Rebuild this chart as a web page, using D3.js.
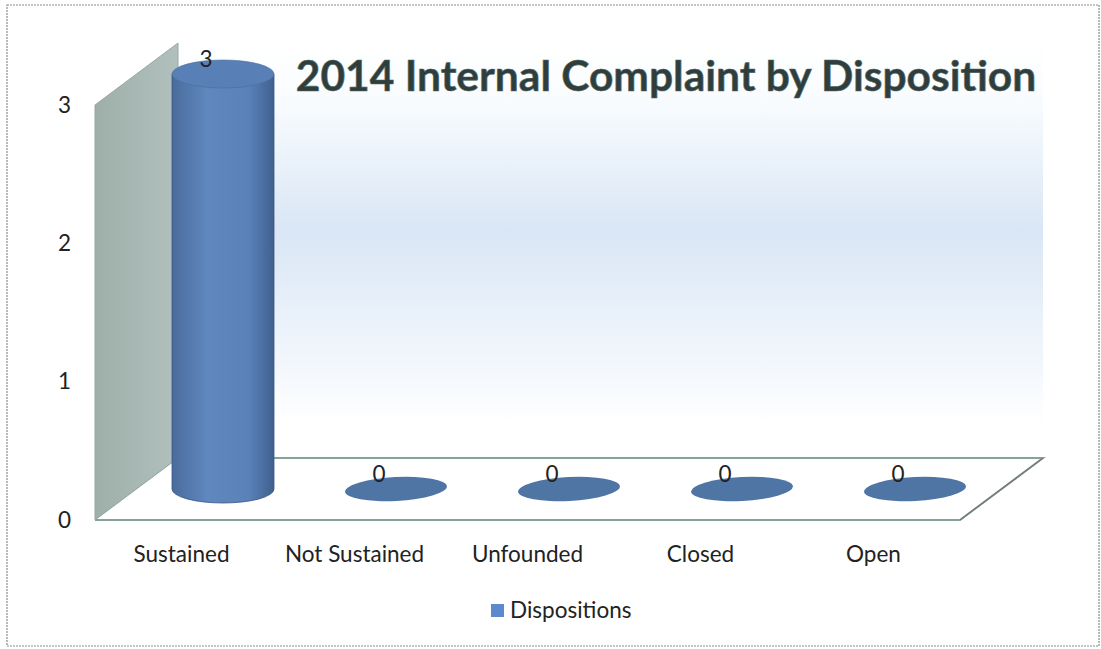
<!DOCTYPE html>
<html lang="en">
<head>
  <title>2014 Internal Complaint by Disposition</title>
  <meta charset="UTF-8">
  <style>
    body { margin: 0; background: #fff; font-family: Lato, "Noto Sans", sans-serif; }
  </style>
  <script src="https://cdn.jsdelivr.net/npm/d3@7"></script>
</head>
<body>
<script>
  var categories = ["Sustained", "Not Sustained", "Unfounded", "Closed", "Open"];
  var values = [3, 0, 0, 0, 0];
  var yTicks = [0, 1, 2, 3];
  var seriesName = "Dispositions";
  var title = "2014 Internal Complaint by Disposition";

  var W = 1101, H = 649;
  // front floor edge and 3d depth offset
  var x0 = 95, x1 = 960, floorY = 520;
  var depthX = 83, depthY = -62;
  var labelSize = 22.5;

  var svg = d3.select("body").append("svg")
    .attr("width", W).attr("height", H);

  var defs = svg.append("defs");

  var wallGrad = defs.append("linearGradient").attr("id", "wall")
    .attr("x1", 0).attr("y1", 0).attr("x2", 0).attr("y2", 1);
  wallGrad.append("stop").attr("offset", "0%").attr("stop-color", "#ffffff");
  wallGrad.append("stop").attr("offset", "15%").attr("stop-color", "#f8fbfe");
  wallGrad.append("stop").attr("offset", "45%").attr("stop-color", "#d9e6f5");
  wallGrad.append("stop").attr("offset", "72%").attr("stop-color", "#eef4fb");
  wallGrad.append("stop").attr("offset", "92%").attr("stop-color", "#ffffff");

  var sideGrad = defs.append("linearGradient").attr("id", "side")
    .attr("x1", 0).attr("y1", 0).attr("x2", 1).attr("y2", 0);
  sideGrad.append("stop").attr("offset", "0%").attr("stop-color", "#9eafaa");
  sideGrad.append("stop").attr("offset", "100%").attr("stop-color", "#b1c0bc");

  var cylGrad = defs.append("linearGradient").attr("id", "cyl")
    .attr("x1", 0).attr("y1", 0).attr("x2", 1).attr("y2", 0);
  cylGrad.append("stop").attr("offset", "0%").attr("stop-color", "#4a6c9c");
  cylGrad.append("stop").attr("offset", "35%").attr("stop-color", "#5f88bf");
  cylGrad.append("stop").attr("offset", "75%").attr("stop-color", "#5a82b9");
  cylGrad.append("stop").attr("offset", "100%").attr("stop-color", "#40608f");

  // outer frame
  svg.append("rect")
    .attr("x", 7).attr("y", 5).attr("width", 1092).attr("height", 641)
    .attr("fill", "none").attr("stroke", "#8a8a8a").attr("stroke-width", 1.2)
    .attr("stroke-dasharray", "2,1");

  var x = d3.scaleBand().domain(categories).range([x0, x1]);
  var y = d3.scaleLinear().domain([0, 3]).range([floorY, floorY - 415]);

  // back wall
  svg.append("rect")
    .attr("x", x0 + depthX).attr("y", y(3) + depthY)
    .attr("width", x1 - x0).attr("height", floorY - y(3))
    .attr("fill", "url(#wall)");

  // side wall
  svg.append("path")
    .attr("d", d3.line()([[x0, y(3)], [x0 + depthX, y(3) + depthY], [x0 + depthX, floorY + depthY], [x0, floorY]]) + "Z")
    .attr("fill", "url(#side)").attr("stroke", "#95a8a3").attr("stroke-width", 1);

  // floor
  svg.append("path")
    .attr("d", d3.line()([[x0, floorY], [x0 + depthX, floorY + depthY], [x1 + depthX, floorY + depthY], [x1, floorY]]) + "Z")
    .attr("fill", "#ffffff").attr("stroke", "none");
  svg.append("path")
    .attr("d", d3.line()([[x0 + depthX, floorY + depthY], [x1 + depthX, floorY + depthY], [x1, floorY], [x0, floorY]]))
    .attr("fill", "none").attr("stroke", "#86a39b").attr("stroke-width", 2);
  svg.append("line")
    .attr("x1", x1 + depthX).attr("y1", floorY + depthY).attr("x2", x1).attr("y2", floorY)
    .attr("stroke", "#777").attr("stroke-width", 1.3);
  svg.append("line")
    .attr("x1", x0).attr("y1", floorY).attr("x2", x0 + depthX).attr("y2", floorY + depthY)
    .attr("stroke", "#8fa59f").attr("stroke-width", 1);

  // title
  svg.append("text")
    .attr("x", 666).attr("y", 91)
    .attr("text-anchor", "middle")
    .attr("font-family", "Lato, sans-serif")
    .attr("font-weight", "bold")
    .attr("font-size", 42.5)
    .attr("fill", "#2f3d3c")
    .attr("stroke", "#536b68").attr("stroke-width", 0.6)
    .text(title);

  // y axis labels
  var yAxis = svg.append("g")
    .attr("transform", "translate(" + x0 + ",0)")
    .call(d3.axisLeft(y).tickValues(yTicks).tickFormat(d3.format("d")).tickSize(0).tickPadding(24));
  yAxis.attr("font-family", null).attr("font-size", null);
  yAxis.select(".domain").remove();
  yAxis.selectAll("text")
    .attr("font-family", "Lato, sans-serif").attr("font-size", labelSize).attr("fill", "#222");

  // category labels
  var xAxis = svg.append("g")
    .attr("transform", "translate(0," + floorY + ")")
    .call(d3.axisBottom(x).tickSize(0));
  xAxis.attr("font-family", null).attr("font-size", null);
  xAxis.select(".domain").remove();
  xAxis.selectAll("text")
    .attr("dy", null).attr("y", 42)
    .attr("font-family", "Lato, sans-serif").attr("font-size", labelSize).attr("fill", "#222");

  // cylinders
  var rx = 51, ry = 14;
  var data = categories.map(function(c, i) { return { cat: c, v: values[i] }; });
  var g = svg.append("g");
  data.forEach(function(d) {
    var cx = x(d.cat) + x.bandwidth() / 2 + depthX / 2;
    var base = floorY + depthY / 2;
    var top = y(d.v) + depthY / 2;
    if (d.v > 0) {
      g.append("path")
        .attr("d", "M" + (cx - rx) + "," + top +
          "L" + (cx - rx) + "," + base +
          "A" + rx + "," + ry + " 0 0 0 " + (cx + rx) + "," + base +
          "L" + (cx + rx) + "," + top + "Z")
        .attr("fill", "url(#cyl)").attr("stroke", "#3a5783").attr("stroke-width", 0.8);
      g.append("ellipse")
        .attr("cx", cx).attr("cy", top).attr("rx", rx).attr("ry", ry)
        .attr("fill", "#5880b6").attr("stroke", "#4a6c9c").attr("stroke-width", 0.6);
    } else {
      g.append("ellipse")
        .attr("cx", cx).attr("cy", base).attr("rx", rx).attr("ry", 12)
        .attr("transform", "rotate(-3," + cx + "," + base + ")")
        .attr("fill", "#4f75a5");
    }
    g.append("text")
      .attr("x", cx - 17).attr("y", top - 7)
      .attr("text-anchor", "middle")
      .attr("font-family", "Lato, sans-serif").attr("font-size", labelSize).attr("fill", "#222")
      .text(d.v);
  });

  // legend
  var legend = svg.append("g").attr("transform", "translate(491,604)");
  legend.append("rect").attr("width", 13).attr("height", 13).attr("fill", "#5b8bcd");
  legend.append("text")
    .attr("x", 19).attr("y", 14)
    .attr("font-family", "Lato, sans-serif").attr("font-size", labelSize).attr("fill", "#222")
    .text(seriesName);
</script>
</body>
</html>
